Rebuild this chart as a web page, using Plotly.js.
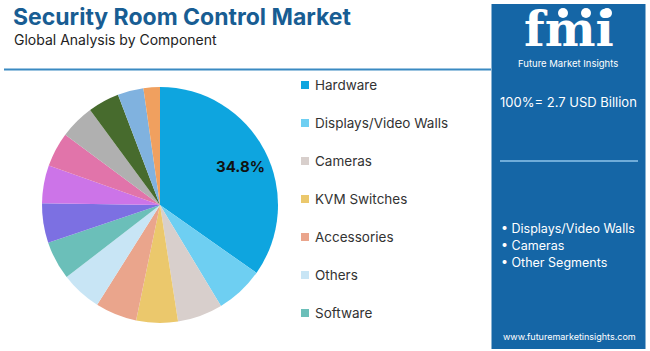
<!DOCTYPE html>
<html><head><meta charset="utf-8">
<script src="https://cdn.plot.ly/plotly-3.0.1.min.js"></script>
<style>html,body{margin:0;padding:0;background:#fff}#chart{width:650px;height:351px}</style>
</head><body><div id="chart"></div>
<script>
const categories = ["Hardware","Displays/Video Walls","Cameras","KVM Switches","Accessories","Others","Software",
  "Segment 8","Segment 9","Segment 10","Segment 11","Segment 12","Segment 13","Segment 14"];
const shares = [34.8,6.6,6.2,5.7,5.7,5.6,5.3,5.4,5.2,4.75,4.75,4.3,3.55,2.25];
const colors = ["#0ea5df","#6ecff2","#d8cfcc","#ebc86c","#eaa58c","#c8e5f5","#6bbfb9",
  "#7c70e2","#cc74e8","#e174aa","#b0b0b0","#476b2d","#80b2df","#f0a05f"];
const legendItems = categories.slice(0,7);
const sideBullets = ["Displays/Video Walls","Cameras","Other Segments"];
const totalText = "100%= 2.7 USD Billion";

const W=650,H=351;
const px = x=>x/W, py = y=>1-y/H;
const pieCx=160, pieCy=205, pieR=118;

const trace = {
  type:"pie", labels:categories, values:shares, sort:false, direction:"clockwise", rotation:0,
  marker:{colors:colors, line:{width:0}},
  textinfo:"none",
  domain:{x:[px(pieCx-pieR),px(pieCx+pieR)], y:[py(pieCy+pieR),py(pieCy-pieR)]},
  hoverinfo:"label+percent", showlegend:false
};

// label for the largest slice, placed along its mid-angle
const total = shares.reduce((a,b)=>a+b,0);
const midAng = (shares[0]/total)*Math.PI; // half of first slice, clockwise from top
const labX = pieCx + 0.76*pieR*Math.sin(midAng+0.035);
const labY = pieCy - 0.76*pieR*Math.cos(midAng+0.035);

const shapes = [
  {type:"line", xref:"paper", yref:"paper", x0:px(4), x1:px(491), y0:py(69.5), y1:py(69.5), line:{color:"#3a8ac2", width:2}},
  {type:"rect", xref:"paper", yref:"paper", x0:px(491.5), x1:px(645.5), y0:py(349), y1:py(4), fillcolor:"#1566a6", line:{width:0}, layer:"below"},
  {type:"line", xref:"paper", yref:"paper", x0:px(500), x1:px(638), y0:py(161), y1:py(161), line:{color:"#8ec4ea", width:1.5}}
];
const annotations = [
  {text:"<b>"+shares[0].toFixed(1)+"%</b>", x:px(labX), y:py(labY), xref:"paper", yref:"paper", xanchor:"center", yanchor:"middle", showarrow:false,
   font:{family:"Inter, Open Sans, sans-serif", size:15, color:"#111"}},
  {text:"<b>Security Room Control Market</b>", x:px(11), y:py(17), xref:"paper", yref:"paper", xanchor:"left", yanchor:"middle", showarrow:false,
   font:{family:"Inter, Open Sans, sans-serif", size:23, color:"#185d93"}},
  {text:"Global Analysis by Component", x:px(12), y:py(39), xref:"paper", yref:"paper", xanchor:"left", yanchor:"middle", showarrow:false,
   font:{family:"Inter, Open Sans, sans-serif", size:14, color:"#222"}},
  {text:"<b>fmi</b>", x:px(569), y:py(29), xref:"paper", yref:"paper", xanchor:"center", yanchor:"middle", showarrow:false,
   font:{family:"DejaVu Serif, serif", size:48, color:"#ffffff"}},
  {text:"Future Market Insights", x:px(568), y:py(63), xref:"paper", yref:"paper", xanchor:"center", yanchor:"middle", showarrow:false,
   font:{family:"Inter, Open Sans, sans-serif", size:9.5, color:"#ffffff"}},
  {text:totalText, x:px(568), y:py(102), xref:"paper", yref:"paper", xanchor:"center", yanchor:"middle", showarrow:false,
   font:{family:"Inter, Open Sans, sans-serif", size:13, color:"#ffffff"}},
  {text:"www.futuremarketinsights.com", x:px(569), y:py(336), xref:"paper", yref:"paper", xanchor:"center", yanchor:"middle", showarrow:false,
   font:{family:"Inter, Open Sans, sans-serif", size:9, color:"#ffffff"}}
];
sideBullets.forEach((t,i)=>{
  annotations.push({text:"• "+t, x:px(499), y:py(228+i*17), xref:"paper", yref:"paper", xanchor:"left", yanchor:"middle", showarrow:false,
    font:{family:"Inter, Open Sans, sans-serif", size:12.5, color:"#ffffff"}});
});
legendItems.forEach((t,i)=>{
  const yc = 85+i*38;
  shapes.push({type:"rect", xref:"paper", yref:"paper", x0:px(301), x1:px(309), y0:py(yc+4), y1:py(yc-4), fillcolor:colors[i], line:{width:0}});
  annotations.push({text:t, x:px(313), y:py(yc), xref:"paper", yref:"paper", xanchor:"left", yanchor:"middle", showarrow:false,
    font:{family:"Inter, Open Sans, sans-serif", size:13.5, color:"#333"}});
});
// small globe marks on the fmi logo
[[563,13],[586,13],[607,13]].forEach(p=>{
  shapes.push({type:"circle", xref:"paper", yref:"paper", x0:px(p[0]-5), x1:px(p[0]+5), y0:py(p[1]+5), y1:py(p[1]-5), fillcolor:"#ffffff", line:{width:0}});
});

Plotly.newPlot("chart",[trace],{
  width:W, height:H, margin:{l:0,r:0,t:0,b:0}, paper_bgcolor:"#ffffff",
  showlegend:false, shapes:shapes, annotations:annotations
},{displayModeBar:false, staticPlot:true});
</script></body></html>
